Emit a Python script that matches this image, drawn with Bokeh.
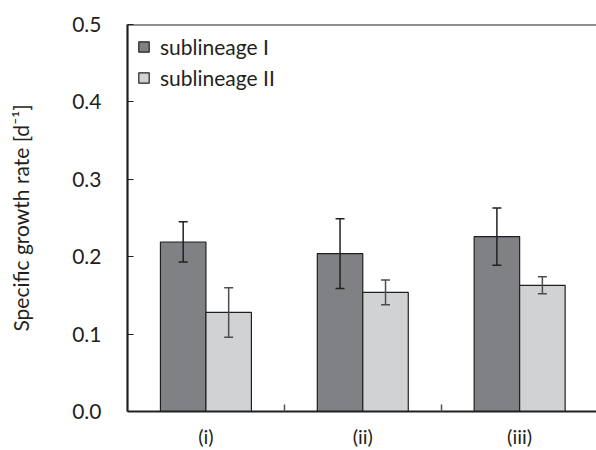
import numpy as np
from bokeh.plotting import figure
from bokeh.models import (ColumnDataSource, Range1d, FixedTicker, Whisker, TeeHead,
                          Span, Legend, LegendItem)
from bokeh.embed import file_html
from bokeh.resources import INLINE

groups = ["(i)", "(ii)", "(iii)"]
sub1 = [0.219, 0.204, 0.226]
err1 = [0.026, 0.045, 0.037]
sub2 = [0.128, 0.154, 0.163]
err2 = [0.032, 0.016, 0.011]
series_names = ["sublineage I", "sublineage II"]
y_ticks = [0.0, 0.1, 0.2, 0.3, 0.4, 0.5]

FONT = "Lato"
DARK = "#808184"
LIGHT = "#d1d2d4"
INK = "#231f20"

idx = np.arange(len(groups))
centers = idx + 0.5
off = 0.145
bw = 0.29

s1 = ColumnDataSource(dict(x=centers - off, top=sub1,
                           lo=np.array(sub1) - np.array(err1),
                           hi=np.array(sub1) + np.array(err1)))
s2 = ColumnDataSource(dict(x=centers + off, top=sub2,
                           lo=np.array(sub2) - np.array(err2),
                           hi=np.array(sub2) + np.array(err2)))

p = figure(width=596, height=450, output_backend="svg", toolbar_location=None,
           x_range=Range1d(0, 2.99), y_range=Range1d(0, 0.5),
           min_border_left=127, min_border_right=0, min_border_top=24,
           min_border_bottom=38)
p.outline_line_color = None
p.grid.grid_line_color = None
p.background_fill_color = "white"

r1 = p.vbar(x="x", top="top", width=bw, source=s1, fill_color=DARK,
            line_color=INK, line_width=1.2)
r2 = p.vbar(x="x", top="top", width=bw, source=s2, fill_color=LIGHT,
            line_color=INK, line_width=1.2)

w1 = Whisker(base="x", lower="lo", upper="hi", source=s1, line_color=INK, line_width=1.5,
             level="overlay",
             upper_head=TeeHead(size=9, line_color=INK, line_width=1.5),
             lower_head=TeeHead(size=9, line_color=INK, line_width=1.5))
w2 = Whisker(base="x", lower="lo", upper="hi", source=s2, line_color="#4d4d4f", line_width=1.5,
             level="overlay",
             upper_head=TeeHead(size=9, line_color="#4d4d4f", line_width=1.5),
             lower_head=TeeHead(size=9, line_color="#4d4d4f", line_width=1.5))
p.add_layout(w1)
p.add_layout(w2)

p.add_layout(Span(location=p.y_range.end, dimension="width", line_color=INK, line_width=2.2))

# x axis
p.xaxis.ticker = FixedTicker(ticks=list(centers), minor_ticks=list(idx[1:]))
p.xaxis.major_label_overrides = {float(c): g for c, g in zip(centers, groups)}
p.xaxis.major_tick_in = 0
p.xaxis.major_tick_out = 0
p.xaxis.minor_tick_in = 7
p.xaxis.minor_tick_out = 0
p.xaxis.minor_tick_line_color = "#555555"
p.xaxis.minor_tick_line_width = 1.5
p.xaxis.major_label_standoff = 12
p.xaxis.axis_line_width = 2.2
p.xaxis.axis_line_color = INK

# y axis
p.yaxis.ticker = FixedTicker(ticks=y_ticks)
p.yaxis.major_label_overrides = {t: f"{t:.1f}" for t in y_ticks}
p.yaxis.major_tick_in = 6
p.yaxis.major_tick_out = 0
p.yaxis.major_tick_line_color = INK
p.yaxis.minor_tick_line_color = None
p.yaxis.major_label_standoff = 26
p.yaxis.axis_label = "Specific growth rate [d\u207b\u00b9]"
p.yaxis.axis_label_standoff = 36
p.yaxis.axis_label_text_font_style = "normal"
p.yaxis.axis_line_width = 2.2
p.yaxis.axis_line_color = INK

for ax in (p.xaxis[0], p.yaxis[0]):
    ax.major_label_text_font = FONT
    ax.major_label_text_font_size = "21px"
    ax.major_label_text_color = INK
    ax.axis_label_text_font = FONT
    ax.axis_label_text_font_size = "21px"
    ax.axis_label_text_color = INK
p.xaxis.major_label_text_font_size = "20px"

legend = Legend(items=[LegendItem(label=series_names[0], renderers=[r1]),
                       LegendItem(label=series_names[1], renderers=[r2])],
                location="top_left", margin=10, padding=6, spacing=6,
                glyph_width=13, glyph_height=13, label_standoff=10,
                label_text_font=FONT, label_text_font_size="21px",
                label_text_color=INK, border_line_color=None,
                background_fill_alpha=0)
p.add_layout(legend)

open("out.html", "w").write(file_html(p, INLINE))
